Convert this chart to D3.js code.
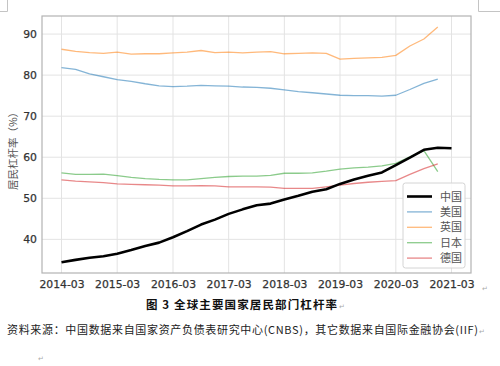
<!DOCTYPE html>
<html>
<head>
<meta charset="utf-8">
<script src="https://cdn.jsdelivr.net/npm/d3@7"></script>
<style>
  body { margin: 0; background: #fff; }
  svg { display: block; }
</style>
</head>
<body>
<svg id="chart" width="500" height="366"></svg>
<script>
`use strict`;

// quarterly, 2014-03 .. 2021-03
const quarters = d3.range(29).map(i => new Date(2014 + Math.floor(i / 4), 2 + (i % 4) * 3, 1));

const china = [34.4, 35.0, 35.5, 35.9, 36.5, 37.4, 38.4, 39.2, 40.5, 42.0, 43.6, 44.8, 46.2, 47.3, 48.3, 48.7,
  49.7, 50.6, 51.6, 52.2, 53.5, 54.6, 55.5, 56.3, 58.1, 59.9, 61.8, 62.3, 62.2];
const usa = [81.8, 81.4, 80.3, 79.6, 78.9, 78.5, 77.9, 77.4, 77.2, 77.3, 77.5, 77.4, 77.3, 77.1, 77.0, 76.8,
  76.4, 76.0, 75.7, 75.4, 75.1, 75.0, 75.0, 74.9, 75.1, 76.5, 78.0, 79.0];
const uk = [86.3, 85.8, 85.5, 85.3, 85.6, 85.1, 85.2, 85.2, 85.4, 85.6, 86.0, 85.5, 85.6, 85.4, 85.6, 85.7,
  85.2, 85.3, 85.4, 85.3, 83.9, 84.1, 84.2, 84.3, 84.8, 87.1, 88.8, 91.7];
const japan = [56.2, 55.8, 55.8, 55.9, 55.5, 55.1, 54.8, 54.6, 54.5, 54.5, 54.8, 55.1, 55.3, 55.4, 55.4, 55.6,
  56.1, 56.1, 56.2, 56.6, 57.1, 57.4, 57.6, 57.9, 58.5, 60.1, 61.6, 56.5];
const germany = [54.5, 54.2, 54.0, 53.8, 53.5, 53.4, 53.3, 53.2, 53.0, 53.0, 53.1, 53.0, 52.8, 52.8, 52.8, 52.7,
  52.4, 52.4, 52.4, 52.8, 53.2, 53.6, 53.9, 54.1, 54.3, 55.8, 57.2, 58.4];

const seriesNames = [`中国`, `美国`, `英国`, `日本`, `德国`];
const seriesValues = [china, usa, uk, japan, germany];
const seriesColors = [`#000000`, `#1f77b4`, `#ff7f0e`, `#2ca02c`, `#d62728`];

const xTickLabels = [`2014-03`, `2015-03`, `2016-03`, `2017-03`, `2018-03`, `2019-03`, `2020-03`, `2021-03`];
const yTicks = [40, 50, 60, 70, 80, 90];

const caption = `图 3 全球主要国家居民部门杠杆率`;
const source = `资料来源：中国数据来自国家资产负债表研究中心(CNBS)，其它数据来自国际金融协会(IIF)`;

const svg = d3.select(`#chart`);

const frame = {left: 42, right: 471, top: 16, bottom: 273};
const padX = (frame.right - frame.left) / 1.1 * 0.05;

const x = d3.scaleTime()
  .domain([quarters[0], quarters[quarters.length - 1]])
  .range([frame.left + padX, frame.right - padX]);

const y = d3.scaleLinear()
  .domain([31.8, 94.4])
  .range([frame.bottom, frame.top]);

const tickDates = xTickLabels.map(s => d3.timeParse(`%Y-%m`)(s));

// word corner marks
const corner = svg.append(`g`).attr(`stroke`, `#c4c4c4`).attr(`fill`, `none`);
corner.append(`path`).attr(`d`, `M0,11.5H7.5V0`);
corner.append(`path`).attr(`d`, `M500,11.5H478.5V0`);

// grid
const grid = svg.append(`g`).attr(`stroke`, `#e3e3e3`).attr(`stroke-width`, 1);

grid.selectAll(`line.gx`).data(tickDates)
  .enter()
  .append(`line`)
  .attr(`x1`, d => x(d)).attr(`x2`, d => x(d))
  .attr(`y1`, frame.top).attr(`y2`, frame.bottom);

grid.selectAll(`line.gy`).data(yTicks)
  .enter()
  .append(`line`)
  .attr(`x1`, frame.left).attr(`x2`, frame.right)
  .attr(`y1`, d => y(d)).attr(`y2`, d => y(d));

// lines (drawn so china sits on top)
const line = d3.line()
  .x((d, i) => x(quarters[i]))
  .y(d => y(d));

const order = [1, 2, 3, 4, 0];

svg.append(`g`).selectAll(`path`).data(order)
  .enter()
  .append(`path`)
  .attr(`d`, k => line(seriesValues[k]))
  .attr(`fill`, `none`)
  .attr(`stroke`, k => seriesColors[k])
  .attr(`stroke-opacity`, k => k === 0 ? 1 : 0.55)
  .attr(`stroke-width`, k => k === 0 ? 2.6 : 1.3)
  .attr(`stroke-linejoin`, `round`);

// frame
svg.append(`rect`)
  .attr(`x`, frame.left).attr(`y`, frame.top)
  .attr(`width`, frame.right - frame.left).attr(`height`, frame.bottom - frame.top)
  .attr(`fill`, `none`)
  .attr(`stroke`, `#b3b3b3`)
  .attr(`stroke-width`, 1.2);

// axes
const xAxis = svg.append(`g`)
  .attr(`transform`, `translate(0,${frame.bottom})`)
  .call(d3.axisBottom(x).tickValues(tickDates).tickFormat((d, i) => xTickLabels[i]).tickSize(0).tickPadding(7));

const yAxis = svg.append(`g`)
  .attr(`transform`, `translate(${frame.left},0)`)
  .call(d3.axisLeft(y).tickValues(yTicks).tickSize(0).tickPadding(5));

[xAxis, yAxis].forEach(g => {
  g.select(`.domain`).remove();
  g.selectAll(`text`)
    .attr(`fill`, `#333`)
    .attr(`stroke`, `#333`)
    .attr(`stroke-width`, 0.25)
    .style(`font-family`, `"DejaVu Sans", sans-serif`)
    .style(`font-size`, `10.8px`);
});

svg.append(`text`)
  .attr(`transform`, `translate(17,${(frame.top + frame.bottom) / 2 + 4}) rotate(-90)`)
  .attr(`text-anchor`, `middle`)
  .attr(`fill`, `#555`)
  .style(`font-family`, `"Noto Sans CJK SC", sans-serif`)
  .style(`font-size`, `10.5px`)
  .text(`居民杠杆率（%）`);

// legend
const legend = svg.append(`g`).attr(`transform`, `translate(403,183)`);

legend.append(`rect`)
  .attr(`width`, 62).attr(`height`, 85).attr(`rx`, 2.5)
  .attr(`fill`, `#fff`).attr(`fill-opacity`, 0.85)
  .attr(`stroke`, `#d4d4d4`);

const item = legend.selectAll(`g.item`).data(seriesNames)
  .enter()
  .append(`g`)
  .attr(`transform`, (d, i) => `translate(0,${13.5 + i * 15.4})`);

item.append(`line`)
  .attr(`x1`, 4).attr(`x2`, 29)
  .attr(`stroke`, (d, i) => seriesColors[i])
  .attr(`stroke-opacity`, (d, i) => i === 0 ? 1 : 0.55)
  .attr(`stroke-width`, (d, i) => i === 0 ? 2.6 : 1.3);

item.append(`text`)
  .attr(`x`, 37).attr(`y`, 4)
  .attr(`fill`, `#555`)
  .style(`font-family`, `"Noto Sans CJK SC", sans-serif`)
  .style(`font-size`, `11px`)
  .text(d => d);

// caption and source
svg.append(`text`)
  .attr(`x`, 146).attr(`y`, 309)
  .attr(`textLength`, 191)
  .attr(`fill`, `#111`)
  .style(`font-family`, `"Noto Sans CJK SC", sans-serif`)
  .style(`font-size`, `11.5px`)
  .style(`font-weight`, `bold`)
  .text(caption);

svg.append(`text`)
  .attr(`x`, 7).attr(`y`, 334)
  .attr(`textLength`, 471)
  .attr(`fill`, `#222`)
  .style(`font-family`, `"Noto Sans CJK SC", sans-serif`)
  .style(`font-size`, `11px`)
  .text(source);

// paragraph marks
const marks = [[482, 291], [339, 309], [479, 334], [38, 361]];

svg.selectAll(`text.pm`).data(marks)
  .enter()
  .append(`text`)
  .attr(`x`, d => d[0]).attr(`y`, d => d[1])
  .attr(`fill`, `#aaa`)
  .style(`font-family`, `"DejaVu Sans", sans-serif`)
  .style(`font-size`, `7px`)
  .text(`↵`);
</script>
</body>
</html>
